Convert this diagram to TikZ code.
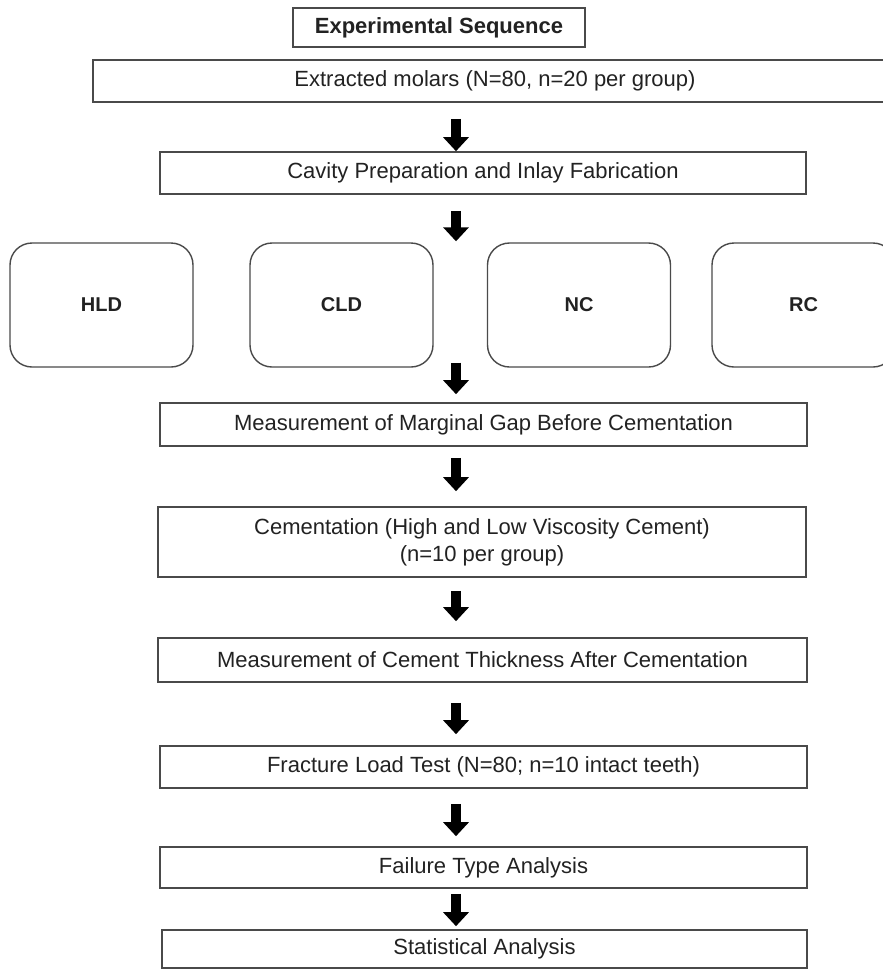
\documentclass[tikz,border=0pt]{standalone}
\usepackage{fontspec}
\setmainfont{Liberation Sans}
\usetikzlibrary{arrows.meta,calc}
\definecolor{boxline}{HTML}{4A4A4A}
\definecolor{txt}{HTML}{222222}
\tikzset{
  stepbox/.style={draw=boxline, line width=1.6pt, fill=white, inner sep=0pt,
    align=center, text=txt, font=\fontsize{22}{27}\selectfont},
  titlebox/.style={draw=boxline, line width=1.6pt, inner sep=0pt, text=txt,
    font=\fontsize{22}{27}\selectfont\bfseries, minimum width=292pt, minimum height=39pt},
  groupbox/.style={draw=boxline, line width=1.4pt, rounded corners=22pt, inner sep=0pt,
    minimum width=183pt, minimum height=124pt, text=txt, font=\fontsize{20}{24}\selectfont\bfseries},
  blockarrow/.style={line width=10pt, draw=black, -{Triangle[length=14pt,width=25pt]}}
}
\begin{document}
\begin{tikzpicture}[x=1pt,y=-1pt]
\useasboundingbox (0,0) rectangle (883,970);
\fill[white] (0,0) rectangle (883,970);
\coordinate (ax) at (456,0);
\node[titlebox] (t) at (439,27.5) {Experimental Sequence};
\node[stepbox, minimum width=804pt, minimum height=42pt] (b1) at (495,81) {Extracted molars (N=80, n=20 per group)};
\node[stepbox, minimum width=646pt, minimum height=42pt] (b2) at (483,173) {Cavity Preparation and Inlay Fabrication};
\node[groupbox] (g1) at (101.5,305) {HLD};
\node[groupbox] (g2) at (341.5,305) {CLD};
\node[groupbox] (g3) at (579,305) {NC};
\node[groupbox] (g4) at (803.5,305) {RC};
\node[stepbox, minimum width=647pt, minimum height=43pt] (b3) at (483.5,424.5) {Measurement of Marginal Gap Before Cementation};
\node[stepbox, minimum width=648pt, minimum height=70pt] (b4) at (482,542) {Cementation (High and Low Viscosity Cement)\\(n=10 per group)};
\node[stepbox, minimum width=649pt, minimum height=44pt] (b5) at (482.5,660) {Measurement of Cement Thickness After Cementation};
\node[stepbox, minimum width=647pt, minimum height=42pt] (b6) at (483.5,767) {Fracture Load Test (N=80; n=10 intact teeth)};
\node[stepbox, minimum width=647pt, minimum height=41pt] (b7) at (483.5,867.5) {Failure Type Analysis};
\node[stepbox, minimum width=645pt, minimum height=38pt] (b8) at (484.5,949) {Statistical Analysis};
\draw[blockarrow, shorten <=16pt, shorten >=0pt] (b1.south -| ax) -- (b2.north -| ax);
\draw[blockarrow, shorten <=16pt, shorten >=1pt] (b2.south -| ax) -- (g2.north -| ax);
\draw[blockarrow, shorten <=-5pt, shorten >=8pt] (g2.south -| ax) -- (b3.north -| ax);
\draw[blockarrow, shorten <=11pt, shorten >=15pt] (b3.south -| ax) -- (b4.north -| ax);
\draw[blockarrow, shorten <=13pt, shorten >=16pt] (b4.south -| ax) -- (b5.north -| ax);
\draw[blockarrow, shorten <=20pt, shorten >=11pt] (b5.south -| ax) -- (b6.north -| ax);
\draw[blockarrow, shorten <=15pt, shorten >=10pt] (b6.south -| ax) -- (b7.north -| ax);
\draw[blockarrow, shorten <=5pt, shorten >=3pt] (b7.south -| ax) -- (b8.north -| ax);
\end{tikzpicture}
\end{document}
